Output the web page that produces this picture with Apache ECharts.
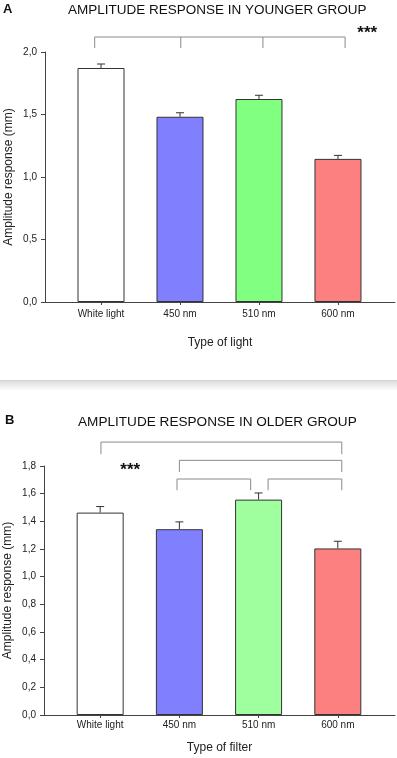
<!DOCTYPE html>
<html>
<head>
<meta charset="utf-8">
<script src="https://cdn.jsdelivr.net/npm/echarts@6/dist/echarts.min.js"></script>
<style>
html, body { margin: 0; padding: 0; background: #fff; }
#chart { width: 397px; height: 758px; }
</style>
</head>
<body>
<div id="chart"></div>
<script>
var categories = ['White light', '450 nm', '510 nm', '600 nm']
var catIndex = [0, 1, 2, 3]
var colorsA = ['#ffffff', '#8080ff', '#80ff80', '#fc8080']
var colorsB = ['#ffffff', '#8080ff', '#9fff9f', '#fc8080']

// younger group (panel A)
var youngMean = [1.872, 1.482, 1.624, 1.145]
var youngErr = [0.032, 0.032, 0.030, 0.028]
// older group (panel B)
var oldMean = [1.463, 1.343, 1.557, 1.204]
var oldErr = [0.044, 0.053, 0.048, 0.052]

// y axis ranges
var yMaxA = 2.0, yStepA = 0.5
var yMaxB = 1.8, yStepB = 0.2

// significance brackets: [xStart, xEnd, yTop, yLow]
var bracketsA = [[-0.08, 3.09, 2.12, 2.032]]
var dropsA = [[1.01, 2.12, 2.032], [2.05, 2.12, 2.032]]
var bracketsB = [
    [0.01, 3.05, 1.973, 1.885],
    [1.00, 3.05, 1.841, 1.757],
    [0.97, 1.90, 1.706, 1.625],
    [2.12, 3.05, 1.706, 1.625]
]
var starsA = [[3.37, 2.152]]
var starsB = [[0.38, 1.766]]

var xMin = -0.709, xMax = 3.722
var font = 'Liberation Sans, Arial, sans-serif'

function commaFmt(v) {
    return v.toFixed(1).replace('.', ',')
}

function xAxisFor(idx, name, gap, margin) {
    return {
        type: 'value',
        gridIndex: idx,
        min: xMin,
        max: xMax,
        name: name,
        nameLocation: 'middle',
        nameGap: gap,
        nameMoveOverlap: false,
        nameTextStyle: { fontFamily: font, fontSize: 12, color: '#222' },
        splitLine: { show: false },
        axisLine: { onZero: false, lineStyle: { color: '#444', width: 1 } },
        axisTick: { show: true, length: 3, customValues: catIndex, lineStyle: { color: '#444' } },
        axisLabel: {
            customValues: catIndex,
            margin: margin,
            fontFamily: font,
            fontSize: 10,
            color: '#222',
            formatter: function(v) { return categories[Math.round(v)] }
        }
    }
}

function yAxisFor(idx, max, step) {
    return {
        type: 'value',
        gridIndex: idx,
        min: 0,
        max: max,
        interval: step,
        name: 'Amplitude response (mm)',
        nameLocation: 'middle',
        nameGap: 30,
        nameMoveOverlap: false,
        nameTextStyle: { fontFamily: font, fontSize: 12, color: '#222' },
        splitLine: { show: false },
        axisLine: { show: true, onZero: false, lineStyle: { color: '#444', width: 1 } },
        axisTick: { show: true, length: 4, lineStyle: { color: '#444' } },
        axisLabel: { margin: 8, fontFamily: font, fontSize: 10, color: '#222', formatter: commaFmt }
    }
}

function barData(means, colors) {
    return means.map(function(m, i) {
        return { value: [catIndex[i], m], itemStyle: { color: colors[i] } }
    })
}

function errData(means, errs) {
    return means.map(function(m, i) { return [catIndex[i], m, errs[i]] })
}

function renderErr(params, api) {
    var x = api.value(0), m = api.value(1), e = api.value(2)
    var p0 = api.coord([x, m])
    var p1 = api.coord([x, m + e])
    var st = { stroke: '#333', lineWidth: 1 }
    return {
        type: 'group',
        children: [
            { type: 'line', shape: { x1: p0[0], y1: p0[1], x2: p1[0], y2: p1[1] }, style: st },
            { type: 'line', shape: { x1: p1[0] - 4, y1: p1[1], x2: p1[0] + 4, y2: p1[1] }, style: st }
        ]
    }
}

function renderBracket(params, api) {
    var x0 = api.value(0), x1 = api.value(1), yt = api.value(2), yl = api.value(3)
    return {
        type: 'polyline',
        shape: { points: [api.coord([x0, yl]), api.coord([x0, yt]), api.coord([x1, yt]), api.coord([x1, yl])] },
        style: { stroke: '#8a8a8a', fill: null, lineWidth: 1 }
    }
}

function renderDrop(params, api) {
    var a = api.coord([api.value(0), api.value(1)])
    var b = api.coord([api.value(0), api.value(2)])
    return {
        type: 'line',
        shape: { x1: a[0], y1: a[1], x2: b[0], y2: b[1] },
        style: { stroke: '#8a8a8a', lineWidth: 1 }
    }
}

function renderStars(params, api) {
    var p = api.coord([api.value(0), api.value(1)])
    return {
        type: 'text',
        x: p[0],
        y: p[1],
        style: { text: '***', fontFamily: font, fontSize: 17, fontWeight: 'bold', fill: '#111', align: 'center', verticalAlign: 'middle' }
    }
}

function customSeries(idx, data, fn) {
    return { type: 'custom', xAxisIndex: idx, yAxisIndex: idx, clip: false, data: data, renderItem: fn, z: 5 }
}

var option = {
    backgroundColor: '#fff',
    animation: false,
    title: [
        { text: 'A', left: 3, top: 3, padding: 0, textStyle: { fontFamily: font, fontSize: 13, fontWeight: 'bold', color: '#111' } },
        { text: 'AMPLITUDE RESPONSE IN YOUNGER GROUP', left: 68, top: 3, padding: 0, textStyle: { fontFamily: font, fontSize: 13.5, fontWeight: 'normal', color: '#111' } },
        { text: 'B', left: 5, top: 414, padding: 0, textStyle: { fontFamily: font, fontSize: 13, fontWeight: 'bold', color: '#111' } },
        { text: 'AMPLITUDE RESPONSE IN OLDER GROUP', left: 78, top: 415, padding: 0, textStyle: { fontFamily: font, fontSize: 13.6, fontWeight: 'normal', color: '#111' } }
    ],
    graphic: [{
        type: 'rect',
        left: 0,
        top: 380,
        shape: { width: 397, height: 11 },
        style: {
            fill: new echarts.graphic.LinearGradient(0, 0, 0, 1, [
                { offset: 0, color: '#d2d2d2' },
                { offset: 0.2, color: '#e2e2e2' },
                { offset: 1, color: '#ffffff' }
            ])
        }
    }],
    grid: [
        { left: 45, right: 2, top: 52, height: 250, containLabel: false, outerBoundsMode: 'none' },
        { left: 44, right: 2, top: 466, height: 249, containLabel: false, outerBoundsMode: 'none' }
    ],
    xAxis: [
        xAxisFor(0, 'Type of light', 35, 7),
        xAxisFor(1, 'Type of filter', 27, 5)
    ],
    yAxis: [
        yAxisFor(0, yMaxA, yStepA),
        yAxisFor(1, yMaxB, yStepB)
    ],
    series: [
        {
            type: 'bar', xAxisIndex: 0, yAxisIndex: 0, barWidth: 47,
            itemStyle: { borderColor: '#333', borderWidth: 1 },
            data: barData(youngMean, colorsA)
        },
        {
            type: 'bar', xAxisIndex: 1, yAxisIndex: 1, barWidth: 47,
            itemStyle: { borderColor: '#333', borderWidth: 1 },
            data: barData(oldMean, colorsB)
        },
        customSeries(0, errData(youngMean, youngErr), renderErr),
        customSeries(1, errData(oldMean, oldErr), renderErr),
        customSeries(0, bracketsA, renderBracket),
        customSeries(0, dropsA, renderDrop),
        customSeries(1, bracketsB, renderBracket),
        customSeries(0, starsA, renderStars),
        customSeries(1, starsB, renderStars)
    ]
}

var myChart = echarts.init(document.getElementById('chart'))
myChart.setOption(option)
window.addEventListener('resize', function() {
    myChart.resize()
})
</script>
</body>
</html>
